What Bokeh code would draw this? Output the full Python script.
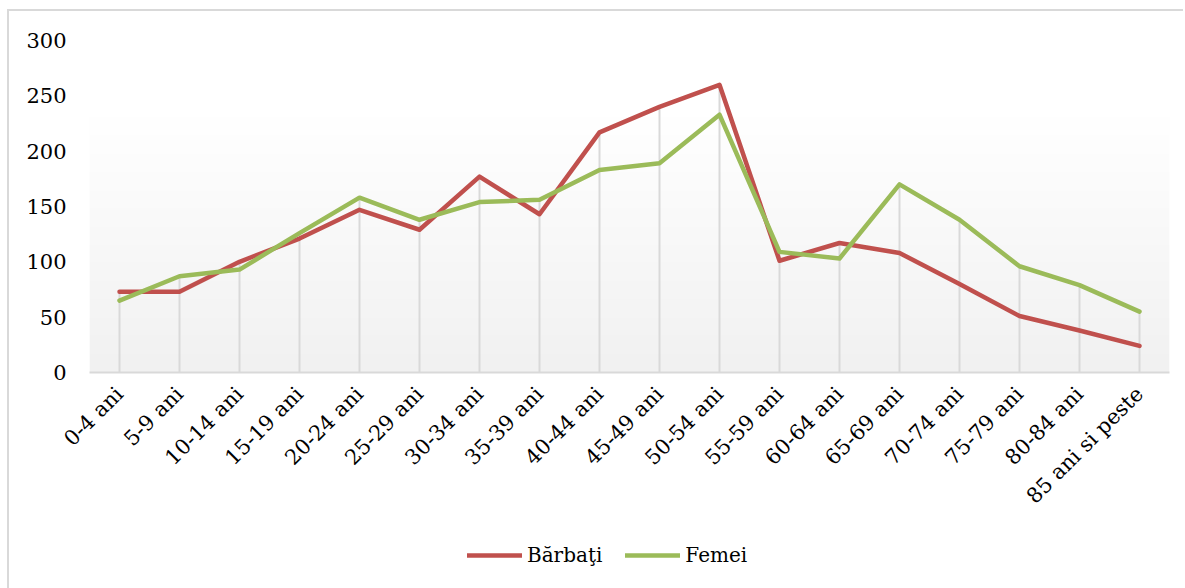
import numpy as np
from math import pi
from bokeh.plotting import figure
from bokeh.layouts import column
from bokeh.models import Range1d, FactorRange, FixedTicker, Legend, LegendItem
from bokeh.embed import file_html
from bokeh.resources import INLINE

categories = ["0-4 ani", "5-9 ani", "10-14 ani", "15-19 ani", "20-24 ani", "25-29 ani",
              "30-34 ani", "35-39 ani", "40-44 ani", "45-49 ani", "50-54 ani", "55-59 ani",
              "60-64 ani", "65-69 ani", "70-74 ani", "75-79 ani", "80-84 ani", "85 ani si peste"]
barbati = [73, 73, 100, 121, 147, 129, 177, 143, 217, 240, 260, 101, 117, 108, 80, 51, 38, 24]
femei = [65, 87, 93, 126, 158, 138, 154, 156, 183, 189, 233, 109, 103, 170, 138, 96, 79, 55]
y_ticks = [0, 50, 100, 150, 200, 250, 300]
series_names = ["Bărbaţi", "Femei"]

RED = "#c0504d"
GREEN = "#9bbb59"
FONT = "DejaVu Serif"

p = figure(width=1174, height=521, output_backend="svg", toolbar_location=None,
           x_range=FactorRange(*categories, range_padding=0), y_range=Range1d(0, 300),
           min_border_left=80, min_border_right=14, min_border_top=29, min_border_bottom=160)
p.outline_line_color = None
p.background_fill_color = "white"
p.border_fill_color = "white"

# gradient background of the plot area
n = 300
rows = np.arange(n)
vals = (rows + 0.5) / n * 300.0
gray = 241 + 14 * np.clip(vals / 230.0, 0, 1)
img = np.zeros((n, 1), dtype=np.uint32)
view = img.view(dtype=np.uint8).reshape((n, 1, 4))
g = gray.astype(np.uint8)
view[:, 0, 0] = g
view[:, 0, 1] = g
view[:, 0, 2] = g
view[:, 0, 3] = 255
p.image_rgba(image=[img], x=0, y=0, dw=len(categories), dh=300)

# drop lines
top = np.maximum(np.array(barbati), np.array(femei))
p.segment(x0=categories, y0=0, x1=categories, y1=top, line_color="#d9d9d9", line_width=2)

p.line(categories, barbati, line_color=RED, line_width=4.5, line_join="round", line_cap="round")
p.line(categories, femei, line_color=GREEN, line_width=4.5, line_join="round", line_cap="round")

p.xgrid.visible = False
p.ygrid.visible = False

p.yaxis.ticker = FixedTicker(ticks=y_ticks)
p.yaxis.axis_line_color = None
p.yaxis.major_tick_line_color = None
p.yaxis.minor_tick_line_color = None
p.yaxis.major_label_standoff = 17
p.yaxis.major_label_text_font = FONT
p.yaxis.major_label_text_font_size = "21px"
p.yaxis.major_label_text_color = "#000000"

p.xaxis.axis_line_color = "#d9d9d9"
p.xaxis.axis_line_width = 2
p.xaxis.major_tick_line_color = None
p.xaxis.minor_tick_line_color = None
p.xaxis.major_label_orientation = pi / 4
p.xaxis.major_label_standoff = 12
p.xaxis.major_label_text_font = FONT
p.xaxis.major_label_text_font_size = "21px"
p.xaxis.major_label_text_color = "#000000"

# legend strip below the chart (legend-only renderers lie outside its visible range)
p2 = figure(width=1174, height=56, output_backend="svg", toolbar_location=None,
            x_range=Range1d(0, 1), y_range=Range1d(0, 1),
            x_axis_type=None, y_axis_type=None,
            min_border_left=0, min_border_right=0, min_border_top=0, min_border_bottom=0)
p2.outline_line_color = None
p2.xgrid.visible = False
p2.ygrid.visible = False
p2.background_fill_color = "white"
p2.border_fill_color = "white"
lr1 = p2.line(x=[5, 6], y=[5, 5], line_color=RED, line_width=4.5, line_cap="round")
lr2 = p2.line(x=[5, 6], y=[5, 5], line_color=GREEN, line_width=4.5, line_cap="round")

legend = Legend(items=[LegendItem(label=series_names[0], renderers=[lr1]),
                       LegendItem(label=series_names[1], renderers=[lr2])],
                orientation="horizontal", location=(378, 21),
                padding=0, margin=0, spacing=23, glyph_width=55, label_standoff=5,
                label_text_font=FONT, label_text_font_size="20px", label_text_color="#000000",
                border_line_color=None, background_fill_alpha=0)
p2.add_layout(legend, "center")

layout = column(p, p2, spacing=0,
                styles={"margin-left": "7px", "margin-top": "9px",
                        "border-left": "2px solid #d9d9d9", "border-top": "2px solid #d9d9d9"})

open("out.html", "w").write(file_html(layout, INLINE))
